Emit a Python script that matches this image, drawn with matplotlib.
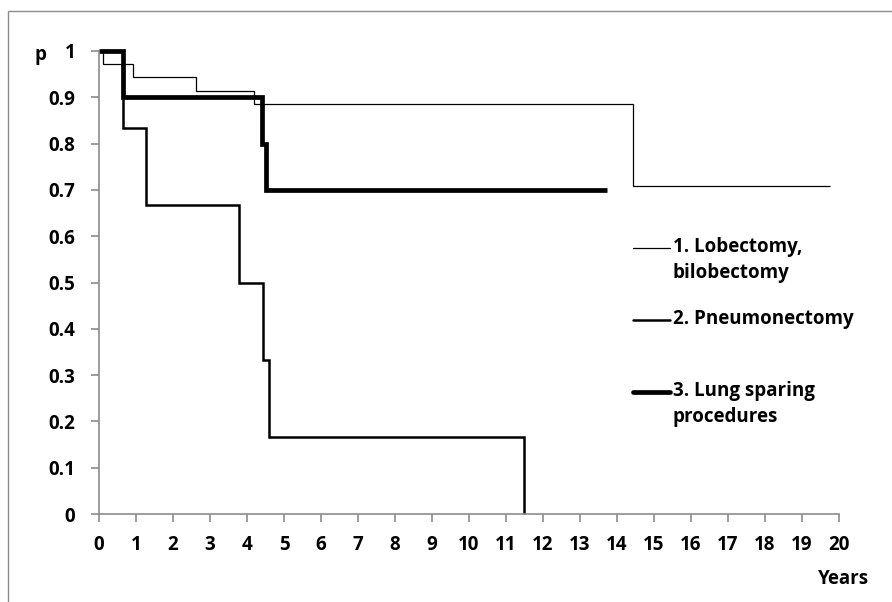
import matplotlib
matplotlib.use("Agg")
import matplotlib.pyplot as plt
from matplotlib.patches import Rectangle
from matplotlib.lines import Line2D

plt.rcParams['font.family'] = ['Open Sans', 'DejaVu Sans']
plt.rcParams['font.weight'] = 'bold'

# Kaplan-Meier step curves: event times (years) and survival after each step
lob_t = [0.0, 0.12, 0.91, 2.61, 4.19, 14.44, 19.76]
lob_p = [1.0, 0.971, 0.943, 0.914, 0.886, 0.709, 0.709]

pne_t = [0.0, 0.66, 1.26, 3.79, 4.42, 4.60, 11.49]
pne_p = [1.0, 0.833, 0.667, 0.5, 0.333, 0.167, 0.0]

lsp_t = [0.0, 0.66, 4.41, 4.50, 13.74]
lsp_p = [1.0, 0.9, 0.8, 0.7, 0.7]

labels = ["1. Lobectomy,\nbilobectomy", "2. Pneumonectomy", "3. Lung sparing\nprocedures"]
widths = [0.9, 1.8, 3.4]

x_ticks = list(range(0, 21))
y_ticks = [0, 0.1, 0.2, 0.3, 0.4, 0.5, 0.6, 0.7, 0.8, 0.9, 1]
y_tick_labels = ["0", "0.1", "0.2", "0.3", "0.4", "0.5", "0.6", "0.7", "0.8", "0.9", "1"]

W, H = 892, 602
FS = 13.5
fig = plt.figure(figsize=(W / 100, H / 100), dpi=100)
fig.patch.set_facecolor("white")

# outer frame
fig.patches.append(Rectangle((8 / W, -0.1), 1.2, (H - 11) / H + 0.1,
                             transform=fig.transFigure, fill=False,
                             edgecolor="#8c8c8c", lw=1.0))

ax = fig.add_axes([99 / W, (H - 514) / H, (839 - 99) / W, (514 - 51) / H])

for t, p, lw in zip([lob_t, pne_t, lsp_t], [lob_p, pne_p, lsp_p], widths):
    ax.step(t, p, where="post", color="black", lw=lw, clip_on=False,
            solid_joinstyle="miter", solid_capstyle="butt")

ax.set_xlim(0, 20)
ax.set_ylim(0, 1)
ax.set_xticks(x_ticks)
ax.set_yticks(y_ticks)
ax.set_yticklabels(y_tick_labels)

for side in ("top", "right"):
    ax.spines[side].set_visible(False)
for side in ("left", "bottom"):
    ax.spines[side].set_color("#8c8c8c")
    ax.spines[side].set_linewidth(1.2)

ax.tick_params(axis="both", direction="out", length=6, width=1.2,
               color="#8c8c8c", labelsize=FS)
ax.tick_params(axis="y", pad=11)
ax.tick_params(axis="x", pad=9)
for lbl in ax.get_xticklabels() + ax.get_yticklabels():
    lbl.set_fontweight("bold")

fig.text(40 / W, 1 - 55 / H, "p", fontsize=FS, fontweight="bold",
         ha="center", va="center")
fig.text(843 / W, 1 - 579 / H, "Years", fontsize=FS, fontweight="bold",
         ha="center", va="center")

# legend entries drawn beside the curves
legend_y = [248, 320, 392]
for y, lab, lw in zip(legend_y, labels, widths):
    fig.lines.append(Line2D([633 / W, 670 / W], [1 - y / H, 1 - y / H],
                            transform=fig.transFigure, color="black", lw=lw,
                            solid_capstyle="round"))
    fig.text(673 / W, 1 - (y - 11) / H, lab, fontsize=FS, fontweight="bold",
             ha="left", va="top", linespacing=1.4)

fig.savefig("out.png", dpi=100)
